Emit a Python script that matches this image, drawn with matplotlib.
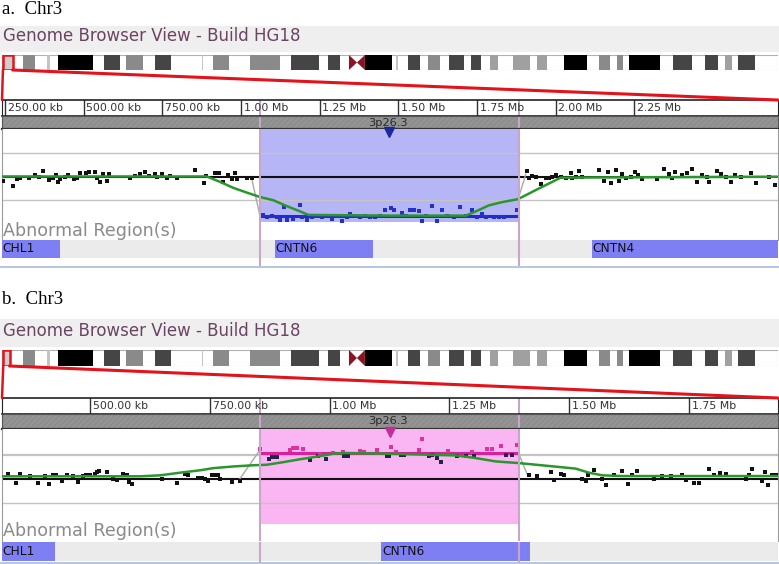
import matplotlib
matplotlib.use("Agg")
import matplotlib.pyplot as plt
from matplotlib.patches import Rectangle, Polygon, ConnectionPatch
from matplotlib.lines import Line2D

# ---------------- data ----------------
CHR3_LEN_MB = 199.5
IDEO_START = [5.4, 11.6, 14.4, 26.2, 31.9, 39.3, 51.4, 54.2, 63.8, 74.3, 83.8,
              93.3, 101.3, 104.4, 109.5, 114.9, 120.6, 125.5, 131.4, 137.5,
              144.5, 153.5, 158.1, 161.2, 172.5, 180.7, 185.9, 189.2]
IDEO_END = [8.5, 12.3, 23.4, 30.3, 36.3, 43.5, 51.7, 58.4, 71.5, 81.5, 86.9,
            100.3, 101.8, 107.5, 112.6, 118.8, 123.2, 127.5, 135.7, 140.1,
            150.4, 156.3, 159.7, 169.2, 177.4, 184.1, 187.7, 193.6]
IDEO_STAIN = ["gpos50", "gpos25", "gpos100", "gpos75", "gpos50", "gpos75", "gpos25", "gpos50", "gpos50", "gpos75", "gpos75",
              "gpos100", "gpos25", "gpos75", "gpos50", "gpos75", "gpos75", "gpos40", "gpos40", "gpos40",
              "gpos100", "gpos50", "gpos50", "gpos100", "gpos75", "gpos75", "gpos40", "gpos75"]
CENTROMERE_MB = (89.2, 93.3)
CYTOBAND_NAME = "3p26.3"

GENE_NAMES = ["CHL1", "CNTN6", "CNTN4"]
GENE_START = [200, 1108, 2115]
GENE_END = [426, 1419, 3100]

# panel a
A_VIEW = (240.5, 2706.6)
A_TICKS = [250, 500, 750, 1000, 1250, 1500, 1750, 2000, 2250]
A_TICK_LABELS = ["250.00 kb", "500.00 kb", "750.00 kb", "1.00 Mb", "1.25 Mb",
                 "1.50 Mb", "1.75 Mb", "2.00 Mb", "2.25 Mb"]
A_REGION = (1060, 1883)
A_REGION_MEAN = -1.67
A_LEFT_KB = [245, 274, 289, 298, 327, 344, 359, 372, 391, 404, 412, 420, 425, 441, 451, 469, 478, 488, 507, 518,
             536, 541, 552, 563, 575, 582, 647, 663, 679, 695, 709, 727, 732, 748, 764, 774, 796, 854, 882, 889,
             917, 931, 942, 960, 970, 981, 988, 1018, 1034]
A_LEFT_VAL = [-0.19, -0.39, -0.10, -0.07, -0.04, 0.07, 0.0, 0.25, -0.14, -0.07, 0.07, -0.22, -0.10, 0.0, 0.07, -0.10, -0.04, 0.14, 0.17, 0.19,
              0.22, -0.04, -0.22, 0.10, -0.19, 0.10, -0.04, 0.04, 0.10, 0.22, 0.01, 0.12, 0.0, 0.12, -0.04, 0.04, -0.04, 0.30, -0.25, 0.04,
              0.17, 0.17, -0.22, 0.07, -0.10, 0.14, -0.10, -0.04, -0.07]
A_RIGHT_KB = [1910, 1915, 1926, 1936, 1955, 1968, 1979, 1989, 2000, 2016, 2032, 2048, 2053, 2064, 2074, 2085, 2138, 2154, 2167, 2175,
              2193, 2201, 2212, 2225, 2238, 2252, 2263, 2275, 2323, 2344, 2360, 2371, 2379, 2403, 2418, 2432, 2450, 2466, 2482, 2487,
              2514, 2527, 2540, 2556, 2570, 2588, 2620, 2636, 2678, 2697]
A_RIGHT_VAL = [0.25, -0.07, 0.04, 0.0, -0.33, -0.07, -0.04, 0.0, 0.07, 0.0, -0.04, 0.14, -0.04, 0.0, 0.26, 0.0, 0.29, -0.19, 0.22, -0.29,
               0.29, -0.19, 0.10, -0.04, 0.0, 0.22, 0.07, -0.10, -0.10, 0.33, 0.10, -0.04, 0.22, 0.07, 0.14, 0.33, -0.22, 0.07, 0.0, -0.22,
               0.25, 0.10, 0.0, -0.22, 0.07, 0.0, 0.14, -0.25, 0.0, -0.36]
A_IN_KB = [1071, 1082, 1097, 1113, 1124, 1137, 1147, 1164, 1188, 1193, 1209, 1225, 1240, 1256, 1272, 1288, 1304, 1320, 1336, 1346,
           1362, 1378, 1394, 1410, 1426, 1442, 1458, 1476, 1486, 1513, 1523, 1536, 1550, 1566, 1576, 1587, 1608, 1624, 1640, 1656,
           1677, 1695, 1714, 1735, 1751, 1767, 1778, 1804, 1820, 1836, 1878]
A_IN_VAL = [-1.64, -1.71, -1.67, -1.74, -1.84, -1.30, -1.84, -1.81, -1.23, -1.74, -1.84, -1.74, -1.67, -1.74, -1.67, -1.81, -1.70, -1.88, -1.71, -1.59,
            -1.67, -1.74, -1.70, -1.74, -1.74, -1.67, -1.45, -1.35, -1.45, -1.55, -1.67, -1.41, -1.45, -1.49, -1.88, -1.70, -1.26, -1.88, -1.41, -1.70,
            -1.74, -1.30, -1.70, -1.41, -1.74, -1.59, -1.74, -1.74, -1.74, -1.74, -1.45]
A_SMOOTH_KB = [240, 891, 933, 976, 1018, 1060, 1103, 1145, 1188, 1214, 1470, 1714, 1746, 1788, 1830, 1878, 1894, 1936, 1979, 2016, 2707]
A_SMOOTH_VAL = [0.01, 0.01, -0.22, -0.48, -0.68, -0.87, -1.01, -1.26, -1.49, -1.64, -1.67, -1.67, -1.49, -1.23, -1.09, -0.97, -0.87, -0.58, -0.29, -0.04, 0.0]
A_CONNECT_KB = [[1034, 1060], [1880, 1905]]
A_CONNECT_VAL = [[-0.07, -1.67], [-1.0, 0.1]]

# panel b
B_VIEW = (316.3, 1936.3)
B_TICKS = [250, 500, 750, 1000, 1250, 1500, 1750]
B_TICK_LABELS = ["250.00 kb", "500.00 kb", "750.00 kb", "1.00 Mb", "1.25 Mb", "1.50 Mb", "1.75 Mb"]
B_REGION = (855, 1396)
B_REGION_MEAN = 1.08
B_LEFT_KB = [329.5, 345.5, 353.9, 374.7, 392.1, 406.0, 415.1, 422.0, 429.0, 440.8, 451.3, 465.2, 475.6, 484.7, 491.6, 500.0, 510.4, 515.3, 519.5, 534.8,
             548.7, 555.7, 568.2, 576.5, 582.1, 587.0, 649.6, 680.9, 698.3, 705.3, 726.2, 733.1, 740.1, 747.0, 754.0, 761.0, 767.9, 771.4, 795.7, 813.1]
B_LEFT_VAL = [0.21, -0.17, 0.18, 0.11, -0.18, 0.11, -0.21, 0.17, 0.14, -0.10, 0.14, 0.11, -0.14, 0.11, 0.14, 0.17, 0.21, 0.28, 0.32, 0.28,
              0.0, -0.04, 0.18, 0.14, -0.14, -0.21, -0.03, -0.18, 0.21, 0.14, 0.03, 0.04, 0.0, -0.10, 0.14, 0.17, 0.14, 0.0, -0.14, -0.11]
B_RIGHT_KB = [1416.5, 1433.9, 1461.7, 1468.7, 1482.6, 1489.5, 1527.8, 1536.2, 1539.7, 1552.2, 1569.6, 1577.9, 1593.9, 1609.9, 1623.9, 1632.2, 1642.6, 1677.4,
              1694.8, 1712.2, 1736.6, 1743.5, 1761.0, 1771.4, 1792.3, 1802.7, 1815.2, 1828.4, 1868.8, 1875.8, 1882.7, 1902.2, 1909.2, 1916.1, 1923.1, 1931.5]
B_RIGHT_VAL = [0.14, 0.11, 0.28, -0.07, 0.21, 0.14, 0.0, -0.11, 0.17, 0.35, 0.0, -0.28, 0.17, 0.31, -0.21, 0.17, 0.31, 0.0,
               0.11, 0.11, 0.17, -0.07, -0.17, -0.17, 0.39, 0.14, 0.25, 0.18, -0.03, 0.17, 0.39, -0.11, 0.28, -0.25, 0.14, 0.14]
B_IN_HI_KB = [855, 917.5, 924.5, 931.5, 944, 980, 1008, 1029, 1064, 1071, 1099, 1127.7, 1138.1, 1186.8, 1193.8, 1248.1, 1298.2, 1329.5, 1338.5, 1357.3, 1392.1]
B_IN_HI_VAL = [1.22, 1.18, 1.29, 1.29, 1.25, 1.04, 1.08, 1.11, 1.15, 1.11, 1.18, 1.32, 1.11, 1.18, 1.64, 1.15, 1.11, 1.25, 1.22, 1.36, 1.42]
B_IN_LO_KB = [874.4, 879.3, 886.2, 889.7, 959.3, 976.7, 992.7, 1030.3, 1039.3, 1119.3, 1124.2, 1148.6, 1155.5, 1207.7, 1214.7, 1225.1, 1232.1,
              1266.9, 1284.2, 1301.7, 1367.8, 1381.7]
B_IN_LO_VAL = [0.81, 0.89, 0.90, 0.92, 0.76, 0.94, 0.83, 0.94, 0.94, 0.93, 0.94, 0.97, 0.97, 0.94, 0.97, 0.86, 0.69, 0.94, 0.94, 0.94, 0.97, 0.97]
B_SMOOTH_KB = [312, 604.4, 646.1, 687.9, 729.6, 757.5, 799.2, 841.0, 868.8, 903.6, 938.4, 980.2, 1008.0, 1035.8, 1124.2, 1263.4, 1305.1,
               1346.9, 1395.6, 1458.2, 1513.9, 1541.7, 1569.6, 1611.3, 1938]
B_SMOOTH_VAL = [0.10, 0.10, 0.14, 0.25, 0.35, 0.44, 0.51, 0.56, 0.58, 0.69, 0.81, 0.94, 1.04, 1.07, 1.04, 0.97, 0.86, 0.72, 0.65, 0.53, 0.42,
                0.25, 0.14, 0.11, 0.11]
B_CONNECT_KB = [[813, 855], [1396, 1414]]
B_CONNECT_VAL = [[0.0, 1.2], [1.0, 0.12]]

# ---------------- styles / layout ----------------
W, H = 779, 564
STAIN_COLORS = {"gpos25": "#c4c4c4", "gpos40": "#a0a0a0", "gpos50": "#8a8a8a", "gpos75": "#454545", "gpos100": "#000000"}

LAY_A = dict(title=9, header=(26, 52), ideo=(55, 70), ruler=(100, 116), band=(116, 129), plot=(129, 240),
             zero=176.7, ppu=23.3, shade_bottom=222, gene=(240, 258), gene_bottom=266, line=267.5, abn=231)
LAY_B = dict(title=300, header=(319, 347), ideo=(350, 366), ruler=(398, 414), band=(414, 429), plot=(429, 541),
             zero=478.7, ppu=24.0, shade_bottom=524, gene=(542, 561), gene_bottom=562.5, line=563, abn=531)

fig = plt.figure(figsize=(W / 100, H / 100), dpi=100)
fig.patch.set_facecolor("white")


def ax_px(x0, y0, x1, y1):
    a = fig.add_axes([x0 / W, 1 - y1 / H, (x1 - x0) / W, (y1 - y0) / H])
    return a


def clean(a):
    a.set_xticks([])
    a.set_yticks([])
    for s in a.spines.values():
        s.set_visible(False)


def fx(x):
    return x / W


def fy(y):
    return 1 - y / H


REGION_LINE = "#c8a6c8"


def draw_panel(letter, lay, view, ticks, labels, region, mean, mean_color, shade_color, tri_color,
               out_kb, out_val, in_kb, in_val, in_color, smooth_kb, smooth_val, con_kb, con_val,
               extra_kb=None, extra_val=None):
    # title
    fig.text(fx(2), fy(lay["title"]), letter + "  Chr3", family="Liberation Serif", fontsize=13.5,
             va="center", ha="left", color="black")
    # header
    hdr = ax_px(0, lay["header"][0], W, lay["header"][1])
    clean(hdr)
    hdr.set_facecolor("#efefef")
    hdr.text(3 / W, 0.62 if letter == "a." else 0.58, "Genome Browser View - Build HG18", transform=hdr.transAxes,
             fontsize=12, color="#6a4462", va="center", ha="left", family="DejaVu Sans")

    # ideogram
    ide = ax_px(2, lay["ideo"][0], 778, lay["ideo"][1])
    clean(ide)
    ide.set_xlim(0, CHR3_LEN_MB)
    ide.set_ylim(0, 1)
    ide.add_patch(Rectangle((0, 0), CHR3_LEN_MB, 1, facecolor="white", edgecolor="#b0b0b0", lw=0.8))
    for s, e, st in zip(IDEO_START, IDEO_END, IDEO_STAIN):
        ide.add_patch(Rectangle((s, 0), e - s, 1, facecolor=STAIN_COLORS[st], edgecolor="none"))
    c0, c1 = CENTROMERE_MB
    cm = (c0 + c1) / 2
    ide.add_patch(Polygon([(c0, 0), (c0, 1), (cm, 0.5)], closed=True, facecolor="#8a1426", edgecolor="none"))
    ide.add_patch(Polygon([(c1, 0), (c1, 1), (cm, 0.5)], closed=True, facecolor="#8a1426", edgecolor="none"))
    v0, v1 = view[0] / 1000.0, view[1] / 1000.0
    ide.add_patch(Rectangle((v0, 0.03), v1 - v0, 0.94, facecolor="#cfcfcf", edgecolor="#e3121b", lw=1.8, zorder=5))

    # ruler
    rul = ax_px(2, lay["ruler"][0], 778, lay["ruler"][1])
    rul.set_xticks([])
    rul.set_yticks([])
    rul.set_xlim(view)
    rul.set_ylim(0, 1)
    for k, s in rul.spines.items():
        s.set_color("#222")
        s.set_linewidth(1.2 if k in ("top", "bottom") else 0.8)
    for t, lab in zip(ticks, labels):
        if view[0] <= t <= view[1]:
            rul.axvline(t, color="#333", lw=1.0)
            rul.annotate(lab, (t, 0.5), xytext=(2.0, 0), textcoords="offset points", fontsize=7.9,
                         va="center", ha="left", color="#333", family="DejaVu Sans")
    for r in region:
        rul.axvline(r, color=REGION_LINE, lw=1.5)

    # zoom lines from ideogram to ruler
    for vk, vm, lw in ((view[0], v0, 1.8), (view[1], v1, 2.2)):
        con = ConnectionPatch(xyA=(vm, 0), coordsA=ide.transData, xyB=(vk, 1), coordsB=rul.transData,
                              color="#e3121b", lw=lw)
        fig.add_artist(con)

    # cytoband bar
    bnd = ax_px(2, lay["band"][0], 778, lay["band"][1])
    bnd.set_xticks([])
    bnd.set_yticks([])
    bnd.set_xlim(view)
    bnd.set_ylim(0, 1)
    bnd.set_facecolor("#8f8f8f")
    bnd.add_patch(Rectangle((view[0], 0), view[1] - view[0], 1, facecolor="#8e8e8e", edgecolor="#979797",
                            hatch="//////", lw=0))
    for k, s in bnd.spines.items():
        s.set_color("#555")
        s.set_linewidth(0.8)
    bnd.spines["bottom"].set_linewidth(1.6)
    bnd.spines["bottom"].set_color("#333")
    bnd.text(0.497, 0.5, CYTOBAND_NAME, transform=bnd.transAxes, fontsize=8.2, ha="center", va="center",
             color="#2a2a2a", family="DejaVu Sans")
    for r in region:
        bnd.axvline(r, color=REGION_LINE, lw=1.5)

    # log ratio plot
    p0, p1 = lay["plot"]
    ax = ax_px(2, p0, 778, p1)
    ax.set_xticks([])
    ax.set_yticks([])
    ytop = (lay["zero"] - p0) / lay["ppu"]
    ybot = (lay["zero"] - p1) / lay["ppu"]
    ax.set_xlim(view)
    ax.set_ylim(ybot, ytop)
    shade_frac = (p1 - lay["shade_bottom"]) / (p1 - p0)
    ax.axvspan(region[0], region[1], ymin=shade_frac, ymax=1, color=shade_color, lw=0, zorder=0)
    for k, s in ax.spines.items():
        s.set_visible(k in ("left", "right"))
        s.set_color("#9a9a9a")
    ax.axhline(1, color="#c4c4c4", lw=1.6 if letter == "b." else 1.0, zorder=1)
    ax.axhline(-1, color="#c4c4c4", lw=1.0, zorder=1)
    ax.axhline(0, color="#111111", lw=1.5, zorder=2)
    for ck, cv in zip(con_kb, con_val):
        ax.plot(ck, cv, color="#aaaaaa", lw=1.0, zorder=2)
    ax.hlines(mean, region[0], region[1], color=mean_color, lw=2.2, zorder=3)
    ax.scatter(out_kb, out_val, s=5, marker="s", color="#111111", lw=0, zorder=4)
    if extra_kb is not None:
        ax.scatter(extra_kb, extra_val, s=5, marker="s", color="#22224a", lw=0, zorder=4)
    ax.scatter(in_kb, in_val, s=5, marker="s", color=in_color, lw=0, zorder=4)
    ax.plot(smooth_kb, smooth_val, color="#2b962b", lw=1.8, zorder=5)
    mid = (region[0] + region[1]) / 2
    ax.plot([mid], [ytop - 0.14], marker="v", ms=7, color=tri_color, mec=tri_color, zorder=6, clip_on=False)
    for r in region:
        ax.axvline(r, color=REGION_LINE, lw=1.5, zorder=6)
    ax.text(1 / 776, (p1 - lay["abn"]) / (p1 - p0), "Abnormal Region(s)", transform=ax.transAxes,
            fontsize=12.6, color="#8a8a8a", va="center", ha="left", family="DejaVu Sans", zorder=7)

    # genes
    g0, g1 = lay["gene"]
    gb = lay["gene_bottom"]
    gax = ax_px(2, g0, 778, gb)
    clean(gax)
    gax.set_xlim(view)
    gax.set_ylim(-(gb - g1) / (g1 - g0), 1)
    gax.axhspan(0, 1, color="#ebebeb", lw=0, zorder=0)
    for name, s, e in zip(GENE_NAMES, GENE_START, GENE_END):
        if e < view[0] or s > view[1]:
            continue
        gax.add_patch(Rectangle((s, 0), e - s, 1, facecolor="#7f7ff4", edgecolor="none", zorder=1))
        gax.annotate(name, (max(s, view[0]), 0.5), xytext=(0.6, 0), textcoords="offset points",
                     fontsize=8.8, va="center", ha="left", color="#111", family="DejaVu Sans", zorder=2)
    for r in region:
        gax.axvline(r, color=REGION_LINE, lw=1.5, zorder=3)

    fig.add_artist(Line2D([0, 1], [fy(lay["line"]), fy(lay["line"])], transform=fig.transFigure,
                          color="#a9bcd8", lw=1.2))


draw_panel("a.", LAY_A, A_VIEW, A_TICKS, A_TICK_LABELS, A_REGION, A_REGION_MEAN, "#1f2ad0", "#b6b6f6", "#1b2a9a",
           A_LEFT_KB + A_RIGHT_KB, A_LEFT_VAL + A_RIGHT_VAL, A_IN_KB, A_IN_VAL, "#2530c8",
           A_SMOOTH_KB, A_SMOOTH_VAL, A_CONNECT_KB, A_CONNECT_VAL)
draw_panel("b.", LAY_B, B_VIEW, B_TICKS, B_TICK_LABELS, B_REGION, B_REGION_MEAN, "#d8209c", "#fab6f2", "#c0309a",
           B_LEFT_KB + B_RIGHT_KB, B_LEFT_VAL + B_RIGHT_VAL, B_IN_HI_KB, B_IN_HI_VAL, "#e0309c",
           B_SMOOTH_KB, B_SMOOTH_VAL, B_CONNECT_KB, B_CONNECT_VAL, B_IN_LO_KB, B_IN_LO_VAL)

fig.savefig("out.png", dpi=100, facecolor="white")
